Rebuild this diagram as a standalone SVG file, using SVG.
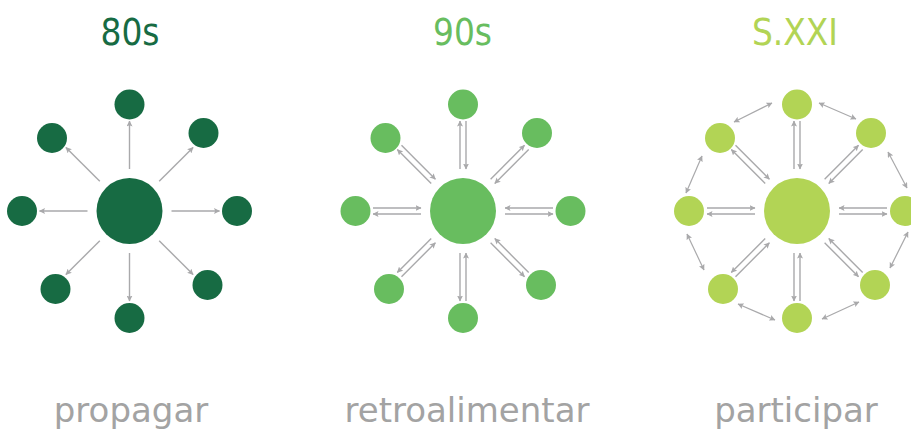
<svg xmlns="http://www.w3.org/2000/svg" width="911" height="430" viewBox="0 0 911 430">
<defs>
<marker id="ah" viewBox="0 0 6 6" refX="5.5" refY="3" markerWidth="6" markerHeight="6" markerUnits="userSpaceOnUse" orient="auto-start-reverse">
<path d="M0,0 L6,3 L0,6 L1.2,3 Z" fill="#a9a9ab"/>
</marker>
<style>
.c1{fill:#176b43}.c2{fill:#68bd5f}.c3{fill:#b2d455}
.ln{stroke:#a9a9ab;stroke-width:1.4;fill:none;marker-end:url(#ah)}
.rg{stroke:#a9a9ab;stroke-width:1.2;fill:none;marker-end:url(#ah);marker-start:url(#ah)}
.title{font-family:"DejaVu Sans Condensed","DejaVu Sans",sans-serif;font-stretch:condensed;font-size:36.6px;text-anchor:middle}
.lbl{font-family:"DejaVu Sans",sans-serif;font-size:34px;fill:#a3a3a3;text-anchor:middle}
</style>
</defs>
<rect width="911" height="430" fill="#ffffff"/>

<text class="title" x="130" y="45" fill="#176b43">80s</text>
<text class="title" x="462.5" y="45" fill="#68bd5f">90s</text>
<text class="title" x="795" y="45" fill="#b2d455">S.XXI</text>

<text class="lbl" x="131" y="422">propagar</text>
<text class="lbl" x="467" y="422">retroalimentar</text>
<text class="lbl" x="796" y="422">participar</text>

<!-- Diagram 1 connectors -->
<g id="connectors-80s" transform="translate(129.5,211)">
<line class="ln" x1="0" y1="-42" x2="0" y2="-90"/>
<line class="ln" x1="42" y1="0" x2="90" y2="0"/>
<line class="ln" x1="0" y1="42" x2="0" y2="90"/>
<line class="ln" x1="-42" y1="0" x2="-90" y2="0"/>
<line class="ln" x1="29.7" y1="-29.7" x2="63.6" y2="-63.6"/>
<line class="ln" x1="29.7" y1="29.7" x2="63.6" y2="63.6"/>
<line class="ln" x1="-29.7" y1="29.7" x2="-63.6" y2="63.6"/>
<line class="ln" x1="-29.7" y1="-29.7" x2="-63.6" y2="-63.6"/>
</g>
<g transform="translate(129.5,211)">
<g id="n80-center"><circle class="c1" cx="0" cy="0" r="33"/></g>
<g id="n80-top"><circle class="c1" cx="0" cy="-106.5" r="15"/></g>
<g id="n80-topright"><circle class="c1" cx="74" cy="-78" r="15"/></g>
<g id="n80-right"><circle class="c1" cx="107.5" cy="0" r="15"/></g>
<g id="n80-bottomright"><circle class="c1" cx="78" cy="74" r="15"/></g>
<g id="n80-bottom"><circle class="c1" cx="0" cy="107" r="15"/></g>
<g id="n80-bottomleft"><circle class="c1" cx="-74" cy="78" r="15"/></g>
<g id="n80-left"><circle class="c1" cx="-107.5" cy="0" r="15"/></g>
<g id="n80-topleft"><circle class="c1" cx="-77.5" cy="-73" r="15"/></g>
</g>

<!-- Diagram 2 connectors -->
<g id="connectors-90s" transform="translate(463,211)">
<line class="ln" x1="-3" y1="-42" x2="-3" y2="-90"/>
<line class="ln" x1="3" y1="-90" x2="3" y2="-42"/>
<line class="ln" x1="42" y1="3" x2="90" y2="3"/>
<line class="ln" x1="90" y1="-3" x2="42" y2="-3"/>
<line class="ln" x1="-3" y1="42" x2="-3" y2="90"/>
<line class="ln" x1="3" y1="90" x2="3" y2="42"/>
<line class="ln" x1="-42" y1="3" x2="-90" y2="3"/>
<line class="ln" x1="-90" y1="-3" x2="-42" y2="-3"/>
<line class="ln" x1="27.6" y1="-31.8" x2="61.5" y2="-65.7"/>
<line class="ln" x1="65.7" y1="-61.5" x2="31.8" y2="-27.6"/>
<line class="ln" x1="27.6" y1="31.8" x2="61.5" y2="65.7"/>
<line class="ln" x1="65.7" y1="61.5" x2="31.8" y2="27.6"/>
<line class="ln" x1="-31.8" y1="27.6" x2="-65.7" y2="61.5"/>
<line class="ln" x1="-61.5" y1="65.7" x2="-27.6" y2="31.8"/>
<line class="ln" x1="-31.8" y1="-27.6" x2="-65.7" y2="-61.5"/>
<line class="ln" x1="-61.5" y1="-65.7" x2="-27.6" y2="-31.8"/>
</g>
<g transform="translate(463,211)">
<g id="n90-center"><circle class="c2" cx="0" cy="0" r="33"/></g>
<g id="n90-top"><circle class="c2" cx="0" cy="-106.5" r="15"/></g>
<g id="n90-topright"><circle class="c2" cx="74" cy="-78" r="15"/></g>
<g id="n90-right"><circle class="c2" cx="107.5" cy="0" r="15"/></g>
<g id="n90-bottomright"><circle class="c2" cx="78" cy="74" r="15"/></g>
<g id="n90-bottom"><circle class="c2" cx="0" cy="107" r="15"/></g>
<g id="n90-bottomleft"><circle class="c2" cx="-74" cy="78" r="15"/></g>
<g id="n90-left"><circle class="c2" cx="-107.5" cy="0" r="15"/></g>
<g id="n90-topleft"><circle class="c2" cx="-77.5" cy="-73" r="15"/></g>
</g>

<!-- Diagram 3 connectors -->
<g id="connectors-sxxi" transform="translate(797,211)">
<line class="ln" x1="-3" y1="-42" x2="-3" y2="-90"/>
<line class="ln" x1="3" y1="-90" x2="3" y2="-42"/>
<line class="ln" x1="42" y1="3" x2="90" y2="3"/>
<line class="ln" x1="90" y1="-3" x2="42" y2="-3"/>
<line class="ln" x1="-3" y1="42" x2="-3" y2="90"/>
<line class="ln" x1="3" y1="90" x2="3" y2="42"/>
<line class="ln" x1="-42" y1="3" x2="-90" y2="3"/>
<line class="ln" x1="-90" y1="-3" x2="-42" y2="-3"/>
<line class="ln" x1="27.6" y1="-31.8" x2="61.5" y2="-65.7"/>
<line class="ln" x1="65.7" y1="-61.5" x2="31.8" y2="-27.6"/>
<line class="ln" x1="27.6" y1="31.8" x2="61.5" y2="65.7"/>
<line class="ln" x1="65.7" y1="61.5" x2="31.8" y2="27.6"/>
<line class="ln" x1="-31.8" y1="27.6" x2="-65.7" y2="61.5"/>
<line class="ln" x1="-61.5" y1="65.7" x2="-27.6" y2="31.8"/>
<line class="ln" x1="-31.8" y1="-27.6" x2="-65.7" y2="-61.5"/>
<line class="ln" x1="-61.5" y1="-65.7" x2="-27.6" y2="-31.8"/>
<line class="rg" x1="-63" y1="-89" x2="-25" y2="-108"/>
<line class="rg" x1="22" y1="-108" x2="59" y2="-92"/>
<line class="rg" x1="91" y1="-59" x2="110" y2="-23"/>
<line class="rg" x1="111" y1="21" x2="93" y2="57"/>
<line class="rg" x1="62" y1="91" x2="25" y2="108"/>
<line class="rg" x1="-22" y1="109" x2="-59" y2="93"/>
<line class="rg" x1="-93" y1="59" x2="-110" y2="23"/>
<line class="rg" x1="-111" y1="-18" x2="-95" y2="-55"/>
</g>
<g transform="translate(797,211)">
<g id="n21-center"><circle class="c3" cx="0" cy="0" r="33"/></g>
<g id="n21-top"><circle class="c3" cx="0" cy="-106.5" r="15"/></g>
<g id="n21-topright"><circle class="c3" cx="74" cy="-78" r="15"/></g>
<g id="n21-right"><circle class="c3" cx="108" cy="0" r="15"/></g>
<g id="n21-bottomright"><circle class="c3" cx="78" cy="74" r="15"/></g>
<g id="n21-bottom"><circle class="c3" cx="0" cy="107" r="15"/></g>
<g id="n21-bottomleft"><circle class="c3" cx="-74" cy="78" r="15"/></g>
<g id="n21-left"><circle class="c3" cx="-108" cy="0" r="15"/></g>
<g id="n21-topleft"><circle class="c3" cx="-77" cy="-73" r="15"/></g>
</g>
</svg>
